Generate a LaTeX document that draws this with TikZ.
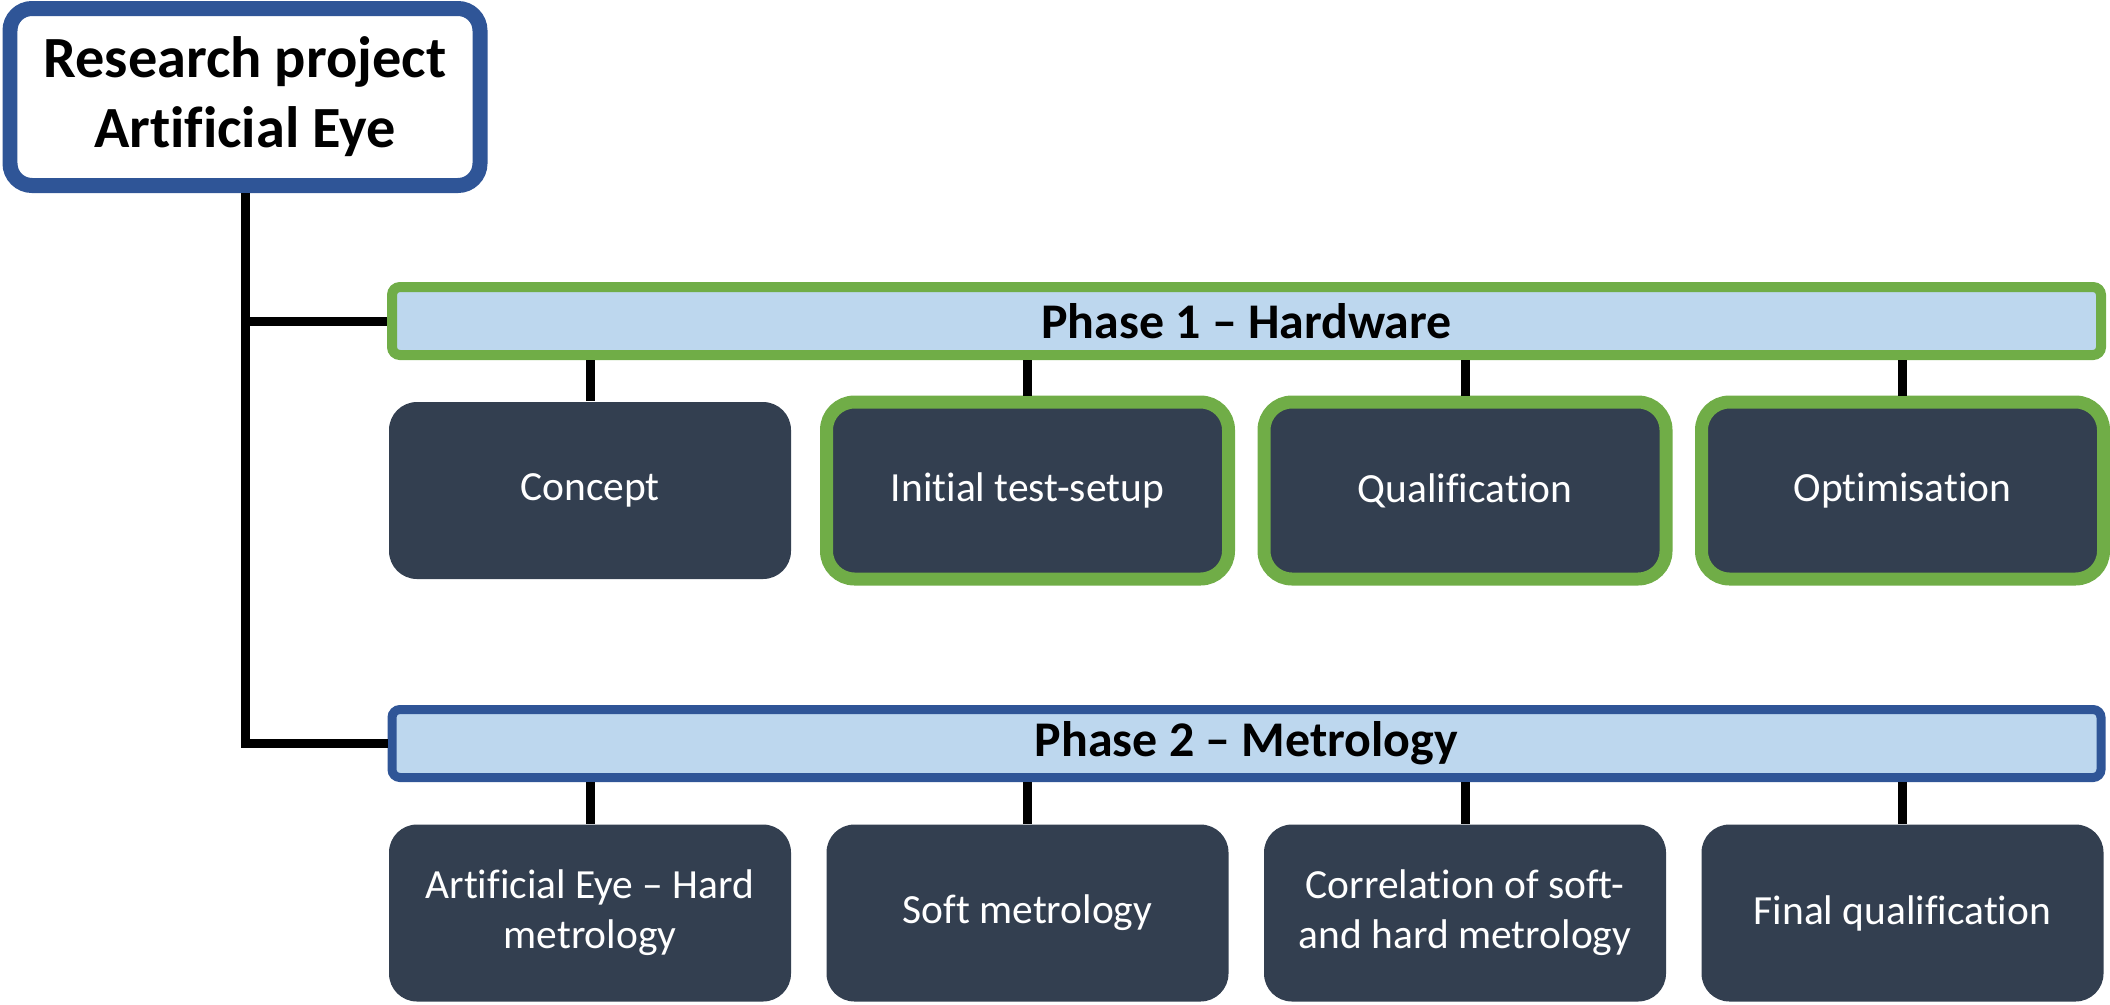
\documentclass[tikz,border=0pt]{standalone}
\usepackage{fontspec}
\setmainfont[Ligatures=CommonOff]{Carlito}
\usepackage{xcolor}
\usepackage{tikz}
\usetikzlibrary{positioning}

\definecolor{darkbox}{HTML}{333F50}
\definecolor{phasegreen}{HTML}{70AD47}
\definecolor{rootblue}{HTML}{2F5597}
\definecolor{barblue}{HTML}{BDD7EE}

\begin{document}
\begin{tikzpicture}[
    node distance=4.375cm,
    root/.style={rectangle, draw=rootblue, line width=0.15cm, fill=white, rounded corners=0.22cm, minimum width=4.70cm, minimum height=1.77cm, align=center, font=\fontsize{16.6}{19.9}\selectfont\bfseries},
    phase/.style={rectangle, fill=barblue, line width=0.10cm, rounded corners=0.08cm, minimum width=17.09cm, minimum height=0.68cm, font=\fontsize{14.2}{17}\selectfont\bfseries},
    task/.style={rectangle, fill=darkbox, rounded corners=0.28cm, minimum width=4.02cm, minimum height=1.77cm, align=center, text=white, font=\fontsize{11.8}{14.2}\selectfont},
    done/.style={draw=phasegreen, line width=0.13cm},
    link/.style={line width=0.09cm}
]
    \useasboundingbox (0,0) rectangle (21.10,-10.04);

    \node[root] (project) at (2.45,-0.97) {Research project\\Artificial Eye};

    \node[phase, draw=phasegreen] (phase1) at (12.465,-3.21) {Phase 1 -- Hardware};
    \node[phase, draw=rootblue, line width=0.09cm, below of=phase1, yshift=0.15cm] (phase2) {Phase 2 -- Metrology};

    \node[task] (concept) at (5.90,-4.905) {Concept};
    \node[task, done, right of=concept] (setup) {Initial test-setup};
    \node[task, done, right of=setup] (qualif) {Qualification};
    \node[task, done, right of=qualif] (optim) {Optimisation};

    \node[task, below of=concept, yshift=0.15cm] (hardmet) {Artificial Eye -- Hard\\metrology};
    \node[task, right of=hardmet] (softmet) {Soft metrology};
    \node[task, right of=softmet] (correl) {Correlation of soft-\\and hard metrology};
    \node[task, right of=correl] (finalq) {Final qualification};

    \draw[link] (project.south) |- (phase1.west);
    \draw[link] (project.south) |- (phase2.west);

    \draw[link] (concept.north |- phase1.south) -- (concept.north);
    \draw[link] (setup.north |- phase1.south) -- (setup.north);
    \draw[link] (qualif.north |- phase1.south) -- (qualif.north);
    \draw[link] (optim.north |- phase1.south) -- (optim.north);

    \draw[link] (hardmet.north |- phase2.south) -- (hardmet.north);
    \draw[link] (softmet.north |- phase2.south) -- (softmet.north);
    \draw[link] (correl.north |- phase2.south) -- (correl.north);
    \draw[link] (finalq.north |- phase2.south) -- (finalq.north);
\end{tikzpicture}
\end{document}
